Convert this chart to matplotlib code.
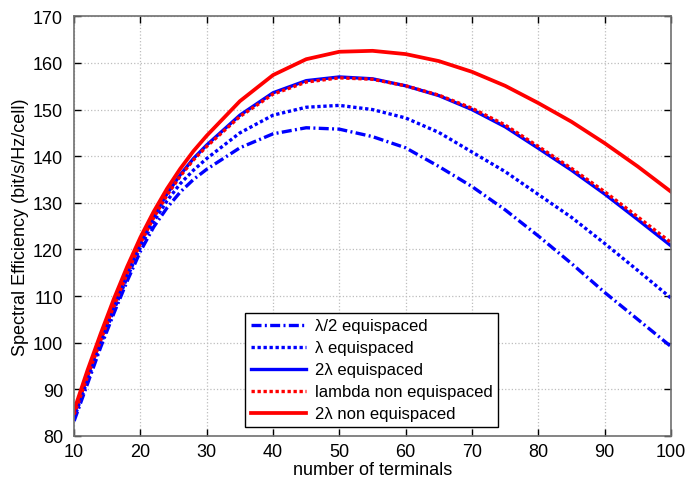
import matplotlib
matplotlib.use("Agg")
import matplotlib.pyplot as plt

plt.rcParams['font.family'] = ['Liberation Sans', 'DejaVu Sans']

terminals = [10, 12, 14, 16, 18, 20, 22, 24, 26, 28, 30, 35, 40, 45, 50, 55, 60, 65, 70, 75, 80, 85, 90, 95, 100]

half_lambda_eq = [83.2, 91.1, 99.0, 106.3, 113.2, 119.6, 124.8, 128.9, 132.3, 135.0, 137.2, 141.8, 144.8, 146.1,
                  145.8, 144.2, 141.8, 137.8, 133.5, 128.5, 122.9, 117.0, 110.8, 105.0, 99.2]
lambda_eq = [83.8, 91.8, 99.6, 107.0, 114.0, 120.5, 126.0, 130.4, 134.1, 137.0, 139.5, 145.0, 148.8, 150.5,
             150.9, 150.0, 148.2, 145.1, 140.9, 136.7, 131.8, 126.9, 121.3, 115.5, 109.6]
two_lambda_eq = [84.5, 92.7, 100.6, 108.1, 115.2, 121.6, 127.1, 131.9, 136.0, 139.5, 142.4, 148.8, 153.6, 156.2,
                 157.0, 156.6, 155.1, 153.0, 150.0, 146.3, 141.7, 137.0, 131.9, 126.4, 120.8]
lambda_noneq = [84.6, 92.7, 100.5, 107.9, 114.9, 121.3, 126.8, 131.6, 135.7, 139.2, 142.1, 148.5, 153.3, 155.9,
                156.8, 156.5, 155.1, 153.1, 150.3, 146.7, 142.1, 137.4, 132.4, 127.0, 121.5]
two_lambda_noneq = [85.5, 94.0, 101.9, 109.4, 116.3, 122.6, 128.1, 133.0, 137.3, 141.1, 144.4, 151.8, 157.4, 160.8,
                    162.4, 162.6, 161.9, 160.4, 158.1, 155.1, 151.4, 147.4, 142.8, 137.8, 132.4]

labels = ['λ/2 equispaced', 'λ equispaced', '2λ equispaced', 'lambda non equispaced', '2λ non equispaced']

xticks = [10, 20, 30, 40, 50, 60, 70, 80, 90, 100]
yticks = [80, 90, 100, 110, 120, 130, 140, 150, 160, 170]

fig = plt.figure(figsize=(6.86, 4.81), dpi=100)
ax = fig.add_axes([0.108, 0.0915, 0.870, 0.8725])

lw = 2.4
ax.plot(terminals, half_lambda_eq, color='#0000ff', lw=lw, linestyle=(0, (3, 1, 0.6, 1)), label=labels[0])
ax.plot(terminals, lambda_eq, color='#0000ff', lw=lw, linestyle=(0, (1, 0.8)), label=labels[1])
ax.plot(terminals, two_lambda_eq, color='#0000ff', lw=lw, linestyle='-', label=labels[2])
ax.plot(terminals, lambda_noneq, color='#ff0000', lw=lw, linestyle=(0, (1, 0.8)), label=labels[3])
ax.plot(terminals, two_lambda_noneq, color='#ff0000', lw=lw + 0.3, linestyle='-', label=labels[4])

ax.set_xlim(10, 100)
ax.set_ylim(80, 170)
ax.set_xticks(xticks)
ax.set_yticks(yticks)
ax.tick_params(direction='in', top=True, right=True, labelsize=13, length=5, width=1)
ax.tick_params(axis='y', pad=8)
ax.tick_params(axis='x', pad=5)
ax.grid(True, color='#bdbdbd', linestyle=':', linewidth=0.9)
for s in ax.spines.values():
    s.set_color('#707070')
    s.set_linewidth(1.2)

ax.set_xlabel('number of terminals', fontsize=13, labelpad=1)
ax.set_ylabel('Spectral Efficiency (bit/s/Hz/cell)', fontsize=13, labelpad=3)

leg = ax.legend(loc='lower left', bbox_to_anchor=(0.287, 0.021), fontsize=12, fancybox=False,
                framealpha=1, edgecolor='black', handlelength=3.3, borderaxespad=0,
                labelspacing=0.42, handletextpad=0.5, borderpad=0.35)
leg.get_frame().set_linewidth(1.0)

fig.savefig('out.png', dpi=100)
